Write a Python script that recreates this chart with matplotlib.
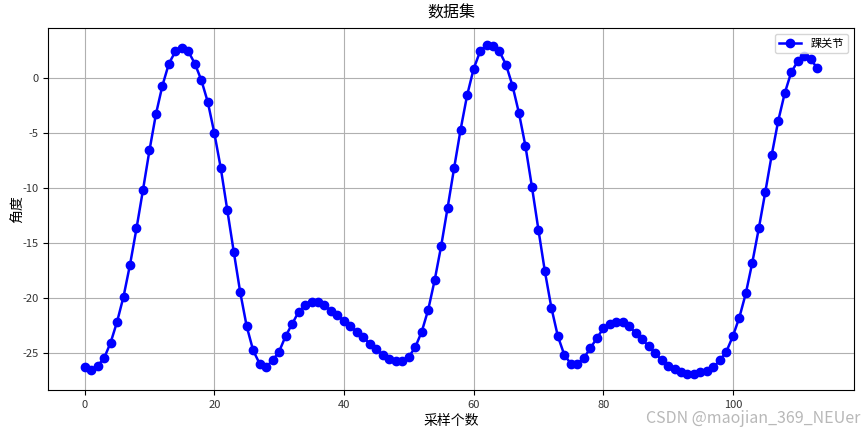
import matplotlib
matplotlib.use("Agg")
import matplotlib.pyplot as plt

plt.rcParams['font.family'] = ['Noto Sans CJK SC', 'DejaVu Sans']
plt.rcParams['axes.unicode_minus'] = False

angles = [
    -26.3, -26.6, -26.2, -25.5, -24.1, -22.2, -19.9, -17.0, -13.7, -10.2,
    -6.6, -3.3, -0.7, 1.3, 2.4, 2.7, 2.4, 1.3, -0.2, -2.2,
    -5.0, -8.2, -12.0, -15.8, -19.5, -22.6, -24.8, -26.0, -26.3, -25.7,
    -24.9, -23.5, -22.4, -21.3, -20.7, -20.4, -20.4, -20.7, -21.2, -21.6,
    -22.1, -22.6, -23.1, -23.6, -24.2, -24.7, -25.2, -25.6, -25.8, -25.8,
    -25.4, -24.5, -23.1, -21.1, -18.4, -15.3, -11.8, -8.2, -4.7, -1.6,
    0.8, 2.4, 3.0, 2.9, 2.4, 1.2, -0.7, -3.2, -6.2, -9.9,
    -13.8, -17.6, -20.9, -23.5, -25.2, -26.0, -26.0, -25.5, -24.6, -23.7,
    -22.8, -22.4, -22.2, -22.2, -22.6, -23.2, -23.8, -24.4, -25.0, -25.7,
    -26.2, -26.5, -26.8, -26.9, -26.9, -26.8, -26.7, -26.3, -25.7, -24.9,
    -23.5, -21.8, -19.6, -16.8, -13.7, -10.4, -7.0, -3.9, -1.4, 0.5,
    1.5, 2.0, 1.7, 0.9,
]
samples = list(range(len(angles)))
series_label = '踝关节'
title = '数据集'
xlabel = '采样个数'
ylabel = '角度'

fig = plt.figure(figsize=(8.65, 4.33), dpi=100)
ax = fig.add_axes([0.0555, 0.0993, 0.9315, 0.835])
ax.plot(samples, angles, color='blue', marker='o', linewidth=1.8, markersize=6, label=series_label)
ax.set_title(title, fontsize=11.5, pad=8)
ax.set_xlabel(xlabel, fontsize=10, labelpad=3)
ax.set_ylabel(ylabel, fontsize=10, labelpad=-2)
ax.tick_params(labelsize=8, labelcolor='#333333')
ax.grid(True, color='#b0b0b0', linewidth=0.8)
ax.legend(loc='upper right', fontsize=8)

fig.text(0.995, 0.015, 'CSDN @maojian_369_NEUer', ha='right', va='bottom',
         fontsize=11.5, color='#b8b8b8')

fig.savefig('out.png', dpi=100)
